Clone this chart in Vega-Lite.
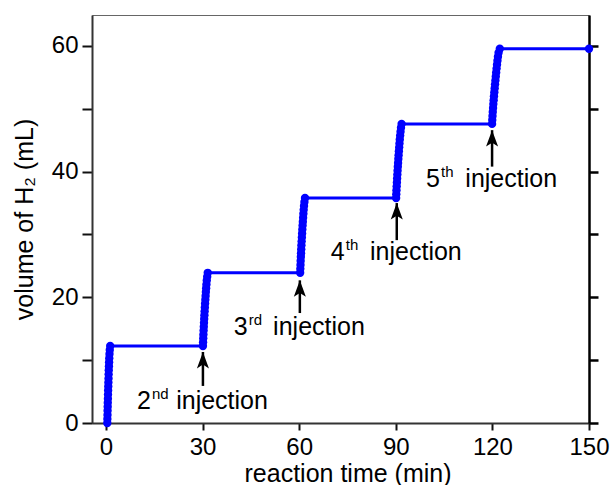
{
  "$schema": "https://vega.github.io/schema/vega-lite/v6.json",
  "width": 497,
  "height": 408,
  "autosize": "none",
  "padding": {"left": 92, "top": 15, "right": 22, "bottom": 62},
  "config": {
    "font": "Liberation Sans",
    "view": {"stroke": "#666666", "strokeWidth": 1},
    "axis": {"grid": false, "labelFlush": false, "labelOverlap": false, "labelColor": "#000000", "titleColor": "#000000", "titleFontWeight": "normal", "tickColor": "#111111"}
  },
  "datasets": {
    "curve": [
      {"t": 0.40, "v": 0.00}, {"t": 0.43, "v": 0.65}, {"t": 0.46, "v": 1.29}, {"t": 0.49, "v": 1.94}, {"t": 0.52, "v": 2.58},
      {"t": 0.55, "v": 3.23}, {"t": 0.59, "v": 3.87}, {"t": 0.62, "v": 4.52}, {"t": 0.66, "v": 5.16}, {"t": 0.70, "v": 5.81},
      {"t": 0.74, "v": 6.45}, {"t": 0.78, "v": 7.10}, {"t": 0.82, "v": 7.74}, {"t": 0.86, "v": 8.39}, {"t": 0.91, "v": 9.03},
      {"t": 0.96, "v": 9.68}, {"t": 1.01, "v": 10.32}, {"t": 1.08, "v": 10.97}, {"t": 1.17, "v": 11.61}, {"t": 1.30, "v": 12.26},
      {"t": 30.10, "v": 12.26}, {"t": 30.15, "v": 12.87}, {"t": 30.20, "v": 13.49}, {"t": 30.25, "v": 14.10}, {"t": 30.31, "v": 14.71},
      {"t": 30.37, "v": 15.32}, {"t": 30.43, "v": 15.94}, {"t": 30.49, "v": 16.55}, {"t": 30.56, "v": 17.16}, {"t": 30.63, "v": 17.77},
      {"t": 30.70, "v": 18.39}, {"t": 30.77, "v": 19.00}, {"t": 30.85, "v": 19.61}, {"t": 30.93, "v": 20.22}, {"t": 31.01, "v": 20.84},
      {"t": 31.10, "v": 21.45}, {"t": 31.19, "v": 22.06}, {"t": 31.29, "v": 22.67}, {"t": 31.42, "v": 23.29}, {"t": 31.60, "v": 23.90},
      {"t": 60.30, "v": 23.90}, {"t": 60.35, "v": 24.53}, {"t": 60.40, "v": 25.15}, {"t": 60.45, "v": 25.78}, {"t": 60.51, "v": 26.41},
      {"t": 60.57, "v": 27.03}, {"t": 60.63, "v": 27.66}, {"t": 60.69, "v": 28.28}, {"t": 60.76, "v": 28.91}, {"t": 60.83, "v": 29.54},
      {"t": 60.90, "v": 30.16}, {"t": 60.97, "v": 30.79}, {"t": 61.05, "v": 31.42}, {"t": 61.13, "v": 32.04}, {"t": 61.21, "v": 32.67},
      {"t": 61.30, "v": 33.29}, {"t": 61.39, "v": 33.92}, {"t": 61.49, "v": 34.55}, {"t": 61.62, "v": 35.17}, {"t": 61.80, "v": 35.80},
      {"t": 90.10, "v": 35.80}, {"t": 90.15, "v": 36.42}, {"t": 90.21, "v": 37.04}, {"t": 90.27, "v": 37.66}, {"t": 90.34, "v": 38.28},
      {"t": 90.41, "v": 38.91}, {"t": 90.48, "v": 39.53}, {"t": 90.55, "v": 40.15}, {"t": 90.63, "v": 40.77}, {"t": 90.71, "v": 41.39},
      {"t": 90.79, "v": 42.01}, {"t": 90.87, "v": 42.63}, {"t": 90.96, "v": 43.25}, {"t": 91.05, "v": 43.87}, {"t": 91.14, "v": 44.49},
      {"t": 91.24, "v": 45.12}, {"t": 91.35, "v": 45.74}, {"t": 91.47, "v": 46.36}, {"t": 91.61, "v": 46.98}, {"t": 91.80, "v": 47.60},
      {"t": 119.90, "v": 47.60}, {"t": 119.96, "v": 48.23}, {"t": 120.03, "v": 48.86}, {"t": 120.11, "v": 49.49}, {"t": 120.20, "v": 50.12},
      {"t": 120.29, "v": 50.75}, {"t": 120.39, "v": 51.37}, {"t": 120.49, "v": 52.00}, {"t": 120.60, "v": 52.63}, {"t": 120.71, "v": 53.26},
      {"t": 120.82, "v": 53.89}, {"t": 120.93, "v": 54.52}, {"t": 121.05, "v": 55.15}, {"t": 121.17, "v": 55.78}, {"t": 121.30, "v": 56.40},
      {"t": 121.43, "v": 57.03}, {"t": 121.57, "v": 57.66}, {"t": 121.72, "v": 58.29}, {"t": 121.92, "v": 58.92}, {"t": 122.30, "v": 59.55},
      {"t": 150.00, "v": 59.55}
    ],
    "arrows": [
      {"x": 30.1, "tip": 11.3, "tail": 5.9, "label": 2.2, "num": "2", "sup": "nd", "word": "injection"},
      {"x": 60.2, "tip": 22.7, "tail": 17.5, "label": 14.0, "num": "3", "sup": "rd", "word": "injection"},
      {"x": 90.3, "tip": 35.0, "tail": 29.1, "label": 25.9, "num": "4", "sup": "th", "word": "injection"},
      {"x": 119.9, "tip": 46.6, "tail": 40.8, "label": 37.6, "num": "5", "sup": "th", "word": "injection"}
    ]
  },
  "layer": [
    {
      "data": {"name": "curve"},
      "mark": {"type": "line", "color": "#0000ff", "strokeWidth": 3},
      "encoding": {
        "x": {"field": "t", "type": "quantitative", "scale": {"domain": [-4.35, 150], "nice": false, "zero": false},
          "axis": {"orient": "bottom", "values": [0, 30, 60, 90, 120, 150], "tickSize": 7, "tickWidth": 2, "domainColor": "#333333", "domainWidth": 2,
            "labelFontSize": 24, "labelPadding": 5, "title": "reaction time (min)", "titleFontSize": 25, "titlePadding": 2, "titleX": 255.5}},
        "y": {"field": "v", "type": "quantitative", "scale": {"domain": [0, 64.93], "nice": false, "zero": false},
          "axis": {"orient": "left", "values": [0, 10, 20, 30, 40, 50, 60], "labelExpr": "datum.value % 20 === 0 ? datum.label : ''",
            "tickSize": 10, "tickWidth": 2, "domainColor": "#333333", "domainWidth": 2, "labelFontSize": 24, "labelPadding": 4,
            "title": "volume of H₂ (mL)", "titleFontSize": 25, "titlePadding": 14}}
      }
    },
    {
      "data": {"name": "curve"},
      "mark": {"type": "point", "filled": true, "color": "#0000ff", "size": 70, "opacity": 1},
      "encoding": {
        "x": {"field": "t", "type": "quantitative"},
        "y": {"field": "v", "type": "quantitative",
          "axis": {"orient": "right", "values": [0, 10, 20, 30, 40, 50, 60], "labels": false, "tickSize": 9, "tickWidth": 2.5, "tickColor": "#000000",
            "domainColor": "#000000", "domainWidth": 2.5, "title": null}}
      }
    },
    {
      "data": {"name": "arrows"},
      "mark": {"type": "rule", "color": "#000000", "strokeWidth": 2.5},
      "encoding": {
        "x": {"field": "x", "type": "quantitative"},
        "y": {"field": "tail", "type": "quantitative", "axis": null},
        "y2": {"field": "tip"}
      }
    },
    {
      "data": {"name": "arrows"},
      "mark": {"type": "point", "filled": true, "color": "#000000", "opacity": 1, "size": 480, "shape": "M0,0L0.55,1.5L0,1.15L-0.55,1.5Z"},
      "encoding": {
        "x": {"field": "x", "type": "quantitative"},
        "y": {"field": "tip", "type": "quantitative", "axis": null}
      }
    },
    {
      "data": {"name": "arrows"},
      "mark": {"type": "text", "align": "left", "baseline": "alphabetic", "dx": -66, "fontSize": 25, "color": "#000000"},
      "encoding": {
        "x": {"field": "x", "type": "quantitative"},
        "y": {"field": "label", "type": "quantitative", "axis": null},
        "text": {"field": "num"}
      }
    },
    {
      "data": {"name": "arrows"},
      "mark": {"type": "text", "align": "left", "baseline": "alphabetic", "dx": -51, "dy": -10, "fontSize": 15, "color": "#000000"},
      "encoding": {
        "x": {"field": "x", "type": "quantitative"},
        "y": {"field": "label", "type": "quantitative", "axis": null},
        "text": {"field": "sup"}
      }
    },
    {
      "data": {"name": "arrows"},
      "mark": {"type": "text", "align": "right", "baseline": "alphabetic", "dx": 65, "fontSize": 25, "color": "#000000"},
      "encoding": {
        "x": {"field": "x", "type": "quantitative"},
        "y": {"field": "label", "type": "quantitative", "axis": null},
        "text": {"field": "word"}
      }
    }
  ],
  "resolve": {"axis": {"y": "independent"}}
}
